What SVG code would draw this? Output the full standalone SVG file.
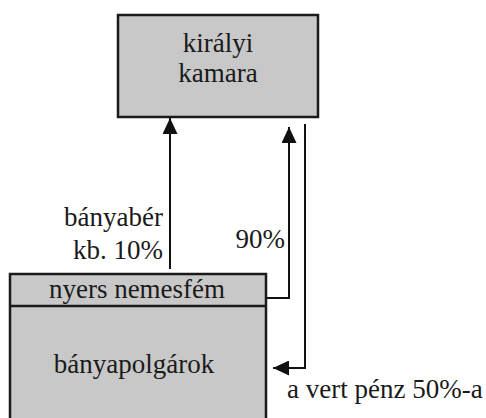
<svg xmlns="http://www.w3.org/2000/svg" width="486" height="418" viewBox="0 0 486 418">
<style>
.box{fill:#c8c8c8;stroke:#1a1a1a;stroke-width:2.5}
text{font-family:'Liberation Serif','Times New Roman','DejaVu Serif',serif;font-size:27px;fill:#1a1a1a}
.c{text-anchor:middle}
.e{text-anchor:end}
.ln{fill:none;stroke:#111;stroke-width:2}
</style>
<defs>
<marker id="ah" markerUnits="userSpaceOnUse" viewBox="0 0 16 15" refX="16" refY="7.5" markerWidth="16" markerHeight="15" orient="auto">
<path d="M0,0 L16,7.5 L0,15 z" fill="#111"/>
</marker>
</defs>
<rect width="486" height="418" fill="#fff"/>
<g id="kiralyi-kamara">
<rect class="box" x="118" y="15" width="200" height="102"/>
<text class="c" x="218" y="52" font-family="Liberation Serif, serif">királyi</text>
<text class="c" x="218" y="82" font-family="Liberation Serif, serif">kamara</text>
</g>
<g id="banyapolgarok">
<rect class="box" x="10" y="274" width="256" height="150"/>
<line x1="10" y1="306" x2="266" y2="306" stroke="#1a1a1a" stroke-width="2.5"/>
<text class="c" x="137" y="298" font-family="Liberation Serif, serif">nyers nemesfém</text>
<text class="c" x="134" y="373" font-family="Liberation Serif, serif">bányapolgárok</text>
</g>
<g id="connectors">
<path class="ln" d="M170,269 V118" marker-end="url(#ah)"/>
<path class="ln" d="M267,298 H289 V127" marker-end="url(#ah)"/>
<path class="ln" d="M305,124 V368 H273" marker-end="url(#ah)"/>
</g>
<g id="labels">
<text class="e" x="163" y="226" font-family="Liberation Serif, serif">bányabér</text>
<text class="e" x="163" y="259" font-family="Liberation Serif, serif">kb. 10%</text>
<text class="e" x="285" y="248" font-family="Liberation Serif, serif">90%</text>
<text x="287" y="398" font-family="Liberation Serif, serif">a vert pénz 50%-a</text>
</g>
</svg>
